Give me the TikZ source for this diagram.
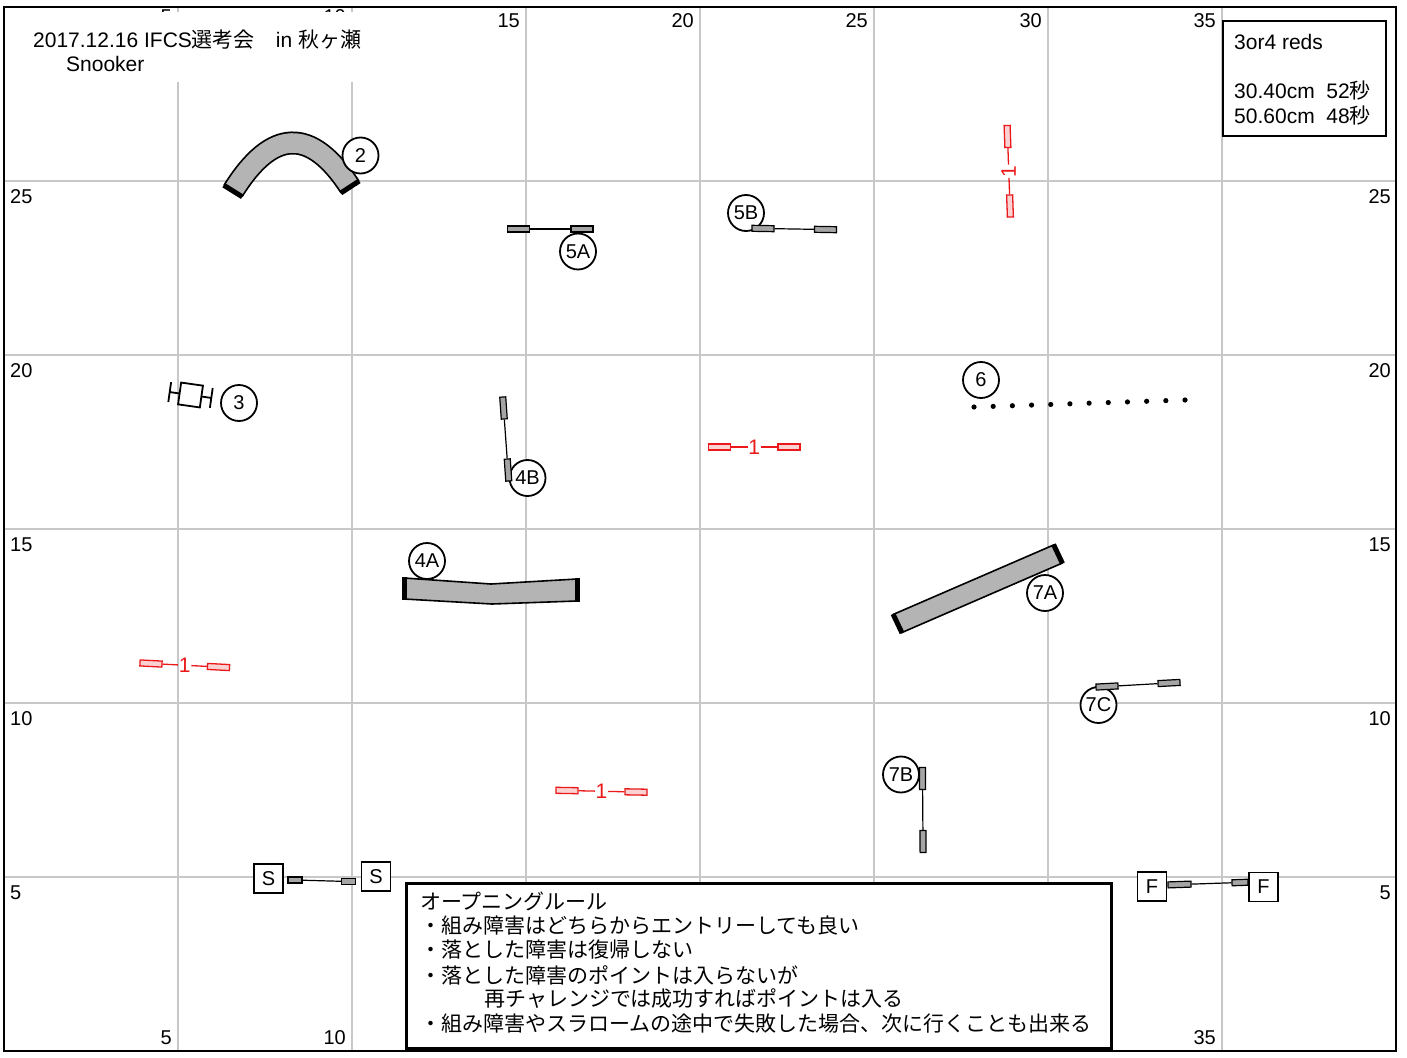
\documentclass[tikz,border=0pt]{standalone}
\usepackage{fontspec}
\setmainfont{Liberation Sans}
\newfontfamily\jp{Noto Sans CJK JP}
\usetikzlibrary{calc}
\definecolor{gridc}{RGB}{200,200,200}
\definecolor{tun}{RGB}{180,180,180}
\definecolor{wingc}{RGB}{165,165,165}
\definecolor{redj}{RGB}{235,25,25}
\definecolor{redfill}{RGB}{250,210,210}
\begin{document}
\begin{tikzpicture}[x=1pt,y=-1pt,
 gridline/.style={draw=gridc,line width=2pt},
 lbl/.style={font=\fontsize{20}{24}\selectfont,inner sep=0pt},
 ttl/.style={font=\fontsize{21}{25}\selectfont,inner sep=0pt,anchor=west},
 jpt/.style={font=\jp\fontsize{21}{25}\selectfont,inner sep=0pt,anchor=west},
 num/.style={circle,draw,line width=1.8pt,fill=white,minimum size=36pt,inner sep=0pt,font=\fontsize{20}{22}\selectfont},
 wing/.style={draw,line width=1.2pt,fill=wingc,minimum width=22pt,minimum height=6pt,inner sep=0pt},
 rwing/.style={draw=redj,line width=1.3pt,fill=redfill,minimum width=22pt,minimum height=6pt,inner sep=0pt},
 bar/.style={line width=1.2pt},
 rbar/.style={draw=redj,line width=1.3pt},
 rnum/.style={text=redj,font=\fontsize{21}{24}\selectfont,inner sep=0.5pt},
 sfbox/.style={draw,line width=1.8pt,fill=white,minimum size=29pt,inner sep=0pt,font=\fontsize{20}{24}\selectfont},
 tunnel/.style={draw,line width=1.6pt,fill=tun},
 tcap/.style={line width=5pt},
]
\useasboundingbox (0,0) rectangle (1407,1057);
\fill[white] (0,0) rectangle (1407,1057);
% grid
\foreach \i in {5,10,...,35} \draw[gridline] ({4+34.8*\i},7) -- ({4+34.8*\i},1051);
\foreach \j in {5,10,...,25} \draw[gridline] (4,{1051-34.8*\j}) -- (1396,{1051-34.8*\j});
% grid labels
\foreach \i in {5,10} \node[lbl,anchor=east] (top\i) at ({4+34.8*\i-6},16.5) {\i};
\foreach \i in {15,20,...,35} \node[lbl,anchor=east] (top\i) at ({4+34.8*\i-6},21) {\i};
\foreach \i in {5,10,35} \node[lbl,anchor=east] (bot\i) at ({4+34.8*\i-6},1038) {\i};
\foreach \j in {5,10,...,25} {
  \node[lbl,anchor=west] (lft\j) at (10,{1051-34.8*\j+16}) {\j};
  \node[lbl,anchor=east] (rgt\j) at (1391,{1051-34.8*\j+16}) {\j};
}
% title
\fill[white] (28,12) rectangle (372,82);
\node[ttl] (title) at (33,40) {2017.12.16 IFCS{\jp 選考会　}in {\jp 秋ヶ瀬}};
\node[ttl] (sub) at (66,63.5) {Snooker};
% info box
\node[draw,line width=2pt,fill=white,anchor=north west,minimum width=163pt,minimum height=115pt,inner sep=0pt] (info) at (1222,20) {};
\node[ttl] (info1) at (1234,42) {3or4 reds};
\node[ttl] (info2) at (1234,91) {30.40cm\ \ 52{\jp 秒}};
\node[ttl] (info3) at (1234,116) {50.60cm\ \ 48{\jp 秒}};
% tunnel 2 (curved)
\draw[line width=23pt] (233,191) .. controls (272,128.3) and (311,127) .. (350,187);
\draw[tun,line width=19.5pt] (233,191) .. controls (272,128.3) and (311,127) .. (350,187);
\draw[tcap] (223.7,185.2) -- (242.3,196.8);
\draw[tcap] (359.2,181) -- (340.8,193);
% tunnel 4A
\draw[tunnel] (404,578) -- (491,584) -- (577,579) -- (577,601) -- (492,604) -- (404,599) -- cycle;
\draw[tcap] (404,577) -- (404,600);
\draw[tcap] (577,578) -- (577,602);
% tunnel 7A
\draw[tunnel] (893.5,614.3) -- (1054,544.8) -- (1062,563.2) -- (901.5,632.7) -- cycle;
\draw[tcap] (893,614) -- (902,633);
\draw[tcap] (1053.5,544.5) -- (1062.5,563.5);
% obstacle 3
\begin{scope}[shift={(190.5,395)},rotate=-8]
  \draw[line width=1.8pt,fill=white] (-11,-11) rectangle (11,11);
  \draw[line width=1.8pt] (-11,0) -- (-21,0) (-21,-10) -- (-21,10);
  \draw[line width=1.8pt] (11,0) -- (21,0) (21,-10) -- (21,10);
\end{scope}
% weave poles 6
\foreach \k in {0,...,11} \fill ({974+\k*211/11},{407-\k*7/11}) circle[radius=2.6];
% number circles
\node[num] (n2) at (360.5,155.5) {2};
\node[num] (n3) at (239,403) {3};
\node[num] (n5a) at (578,251.5) {5A};
\node[num] (n5b) at (746,213) {5B};
\node[num] (n4b) at (527.5,478) {4B};
\node[num] (n4a) at (427,561) {4A};
\node[num] (n6) at (981,380) {6};
\node[num] (n7a) at (1045,593) {7A};
\node[num] (n7c) at (1098.5,705) {7C};
\node[num] (n7b) at (901,774.5) {7B};
% black jumps
\node[wing] (j5a1) at (518.5,229) {};
\node[wing] (j5a2) at (582,229) {};
\draw[bar] (j5a1) -- (j5a2);
\node[wing,rotate=-1] (j5b1) at (763,228.5) {};
\node[wing,rotate=-1] (j5b2) at (825.5,229.5) {};
\draw[bar] (j5b1) -- (j5b2);
\node[wing,rotate=-86] (j4b1) at (503.5,408) {};
\node[wing,rotate=-86] (j4b2) at (508,470) {};
\draw[bar] (j4b1) -- (j4b2);
\node[wing,rotate=-89.5] (j7b1) at (922.5,778.5) {};
\node[wing,rotate=-89.5] (j7b2) at (923,841.5) {};
\draw[bar] (j7b1) -- (j7b2);
\node[wing,rotate=3] (j7c1) at (1107,686.5) {};
\node[wing,rotate=3] (j7c2) at (1169,683) {};
\draw[bar] (j7c1) -- (j7c2);
% red jumps
\node[rwing,rotate=-88] (ra1) at (1007.5,136.5) {};
\node[rwing,rotate=-88] (ra2) at (1010,206) {};
\node[rnum,rotate=90] (ran) at ($(ra1)!0.5!(ra2)$) {1};
\draw[rbar] (ra1) -- (ran); \draw[rbar] (ran) -- (ra2);
\node[rwing] (rb1) at (719.5,447) {};
\node[rwing] (rb2) at (789,447) {};
\node[rnum] (rbn) at ($(rb1)!0.5!(rb2)$) {1};
\draw[rbar] (rb1) -- (rbn); \draw[rbar] (rbn) -- (rb2);
\node[rwing,rotate=-3] (rc1) at (151,663.5) {};
\node[rwing,rotate=-3] (rc2) at (218.5,667) {};
\node[rnum] (rcn) at ($(rc1)!0.5!(rc2)$) {1};
\draw[rbar] (rc1) -- (rcn); \draw[rbar] (rcn) -- (rc2);
\node[rwing,rotate=-1] (rd1) at (567,790.5) {};
\node[rwing,rotate=-1] (rd2) at (636,792) {};
\node[rnum] (rdn) at ($(rd1)!0.5!(rd2)$) {1};
\draw[rbar] (rd1) -- (rdn); \draw[rbar] (rdn) -- (rd2);
% start
\node[wing,minimum width=14pt] (sw1) at (295,880) {};
\node[wing,minimum width=14pt] (sw2) at (348.5,881.5) {};
\draw[bar] (sw1) -- (sw2);
\node[sfbox] (s1) at (268.5,878.5) {S};
\node[sfbox] (s2) at (376,876.5) {S};
% finish
\node[wing,minimum width=23pt,rotate=2] (fw1) at (1179.5,884.5) {};
\node[wing,minimum width=16pt,rotate=2] (fw2) at (1240,882.5) {};
\draw[bar] (fw1) -- (fw2);
\node[sfbox] (f1) at (1152,886.5) {F};
\node[sfbox] (f2) at (1263.5,887) {F};
% rules box
\node[draw,line width=2.8pt,fill=white,anchor=north west,minimum width=705pt,minimum height=165pt,inner sep=0pt] (rules) at (405,882) {};
\node[jpt] (rl1) at (420,901) {オープニングルール};
\node[jpt] (rl2) at (420,926) {・組み障害はどちらからエントリーしても良い};
\node[jpt] (rl3) at (420,950) {・落とした障害は復帰しない};
\node[jpt] (rl4) at (420,975) {・落とした障害のポイントは入らないが};
\node[jpt] (rl5) at (484,999) {再チャレンジでは成功すればポイントは入る};
\node[jpt] (rl6) at (420,1024) {・組み障害やスラロームの途中で失敗した場合、次に行くことも出来る};
% border
\draw[line width=2.5pt] (4,7) rectangle (1396,1051);
\end{tikzpicture}
\end{document}
